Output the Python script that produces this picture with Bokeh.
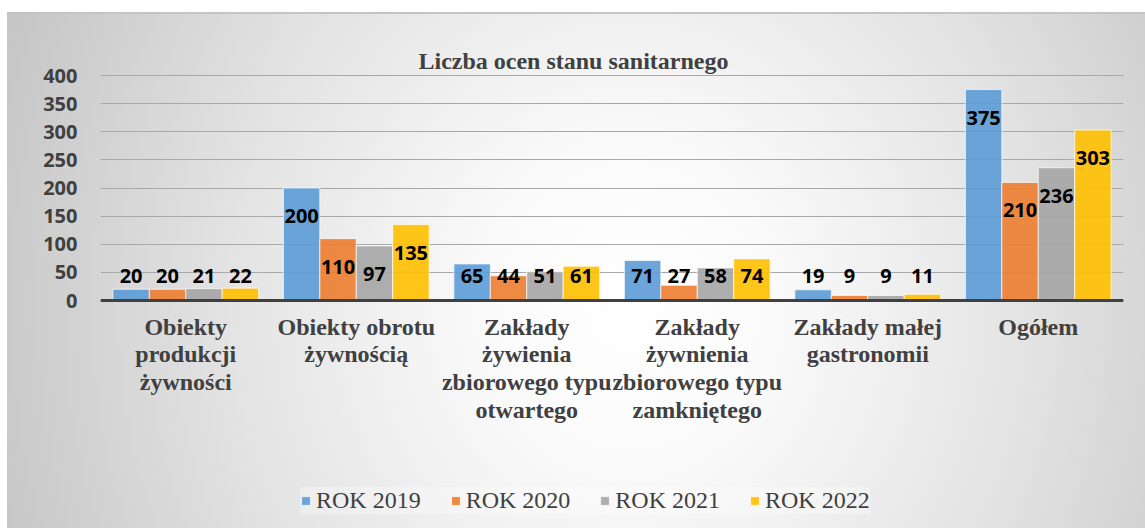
import numpy as np
from bokeh.plotting import figure
from bokeh.models import ColumnDataSource, FactorRange, FixedTicker, Label, Legend, LegendItem, Span
from bokeh.transform import dodge
from bokeh.core.properties import value
from bokeh.embed import file_html
from bokeh.resources import INLINE

categories = [
    "Obiekty\nprodukcji\nżywności",
    "Obiekty obrotu\nżywnością",
    "Zakłady\nżywienia\nzbiorowego typu\notwartego",
    "Zakłady\nżywnienia\nzbiorowego typu\nzamkniętego",
    "Zakłady małej\ngastronomii",
    "Ogółem",
]
series_names = ["ROK 2019", "ROK 2020", "ROK 2021", "ROK 2022"]
rok_2019 = [20, 200, 65, 71, 19, 375]
rok_2020 = [20, 110, 44, 27, 9, 210]
rok_2021 = [21, 97, 51, 58, 9, 236]
rok_2022 = [22, 135, 61, 74, 11, 303]
y_ticks = [0, 50, 100, 150, 200, 250, 300, 350, 400]
title_text = "Liczba ocen stanu sanitarnego"

colors = ["#5B9BD5", "#ED7D31", "#A5A5A5", "#FFC000"]
series = [rok_2019, rok_2020, rok_2021, rok_2022]

# layout geometry (pixels)
W, H = 1145, 528
zero_px, top_px = 300, 75          # page y of value 0 and value 400
px_per_unit = (zero_px - top_px) / 400.0
y_lo = -(H - zero_px) / px_per_unit
y_hi = zero_px / px_per_unit
frame_left = 100

bw = 0.2137
offsets = [-1.5 * bw, -0.5 * bw, 0.5 * bw, 1.5 * bw]

p = figure(
    width=W, height=H,
    x_range=FactorRange(*categories, range_padding=0),
    y_range=(y_lo, y_hi),
    x_axis_location=None,
    output_backend="svg", toolbar_location=None,
    min_border_left=frame_left, min_border_right=22, min_border_top=0, min_border_bottom=0,
)
p.styles = {
    "background": "linear-gradient(#ffffff,#ffffff) 0 0/100% 12px no-repeat, "
                  "linear-gradient(#ffffff,#ffffff) 0 0/7px 100% no-repeat, "
                  "linear-gradient(#c4c4c4,#c4c4c4) 7px 12px/100% 2px no-repeat, "
                  "radial-gradient(ellipse 58% 140% at 55% 58%, #ffffff 0%, #fafafa 22%, #e2e2e2 62%, #c6c6c6 100%)"
}
p.background_fill_color = None
p.border_fill_color = None
p.outline_line_color = None

items = []
for i, (name, vals) in enumerate(zip(series_names, series)):
    vals = np.array(vals, dtype=float)
    # Excel "inside end" labels: 28px below the bar top, but never lower than ~25px above the axis
    lab_y = np.maximum(vals - 28 / px_per_unit, 25 / px_per_unit)
    src = ColumnDataSource(dict(cat=categories, v=vals, ly=lab_y, t=[str(int(v)) for v in vals]))
    r = p.vbar(x=dodge("cat", offsets[i], range=p.x_range), top="v", width=bw, source=src,
               fill_color=colors[i], fill_alpha=0.9, line_color="white", line_alpha=0.7, line_width=1)
    items.append(LegendItem(label=name, renderers=[r]))
    p.text(x=dodge("cat", offsets[i], range=p.x_range), y="ly", text="t", source=src,
           text_align="center", text_baseline="middle", text_color="#000000",
           text_font=value("Open Sans"), text_font_style="bold", text_font_size="20px")

# category labels under the axis
cat_src = ColumnDataSource(dict(cat=categories, y0=[0] * len(categories)))
p.text(x="cat", y="y0", text="cat", source=cat_src, y_offset=13,
       text_align="center", text_baseline="top", text_color="#404040",
       text_font=value("Liberation Serif"), text_font_style="bold", text_font_size="24px",
       text_line_height=1.07)

# base axis line
p.add_layout(Span(location=0, dimension="width", line_color="#404040", line_width=3))

# y axis
p.yaxis.ticker = FixedTicker(ticks=y_ticks)
p.yaxis.axis_line_color = None
p.yaxis.major_tick_line_color = None
p.yaxis.minor_tick_line_color = None
p.yaxis.major_tick_out = 0
p.yaxis.major_label_standoff = 23
p.yaxis.major_label_text_font = "Open Sans"
p.yaxis.major_label_text_font_style = "bold"
p.yaxis.major_label_text_font_size = "20px"
p.yaxis.major_label_text_color = "#404040"

p.xgrid.grid_line_color = None
p.ygrid.grid_line_color = "#a8a8a8"
p.ygrid.grid_line_width = 1

title = Label(x=2.774, y=400 + 15 / px_per_unit, text=title_text,
              text_align="center", text_baseline="alphabetic",
              text_font="Liberation Serif", text_font_style="bold", text_font_size="24px",
              text_color="#404040")
p.add_layout(title)

legend = Legend(items=items, orientation="horizontal", location=(200, 14),
                label_text_font="Liberation Serif", label_text_font_size="24px",
                label_text_color="#404040", glyph_width=11, glyph_height=11,
                label_standoff=5, spacing=29, padding=10,
                background_fill_color="white", background_fill_alpha=0.3,
                border_line_color=None)
p.add_layout(legend, "center")

open("out.html", "w").write(file_html(p, INLINE))
